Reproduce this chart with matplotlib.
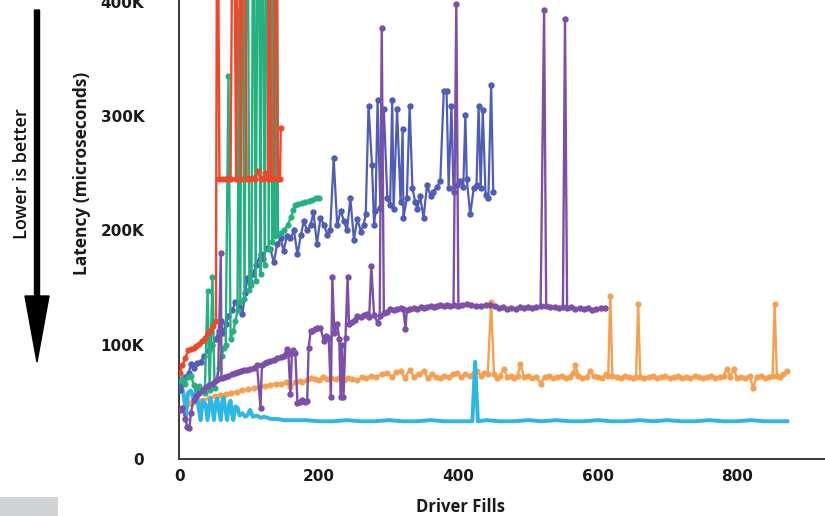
import matplotlib
matplotlib.use("Agg")
import matplotlib.pyplot as plt
from matplotlib.patches import FancyArrow, Rectangle
from matplotlib.ticker import FuncFormatter, FixedLocator

# ---------------- data (latency in thousands of microseconds) ----------------
red_x = [0,4,8,12,16,20,24,28,32,36,40,44,48,52,54,57,61,65,69,73,77,81,85,88,92,96,100,104,108,112,116,120,123,127,128,131,135,138,141,144,145]
red_y = [75,82,88,95,96,97,99,101,103,106,110,112,116,121,600,245,245,245,246,245,600,245,600,245,600,245,245,246,245,252,245,246,250,245,600,245,246,600,245,245,290]

green_x = [0,4,8,12,16,20,24,28,32,36,40,43,47,50,53,56,60,63,66,70,73,77,80,83,85,87,90,93,97,100,103,106,109,113,116,119,122,126,128,130,133,135,137,139,141,145,150,155,160,163,166,170,175,180,185,190,195,200]
green_y = [68,70,66,72,73,65,62,64,60,58,147,60,159,62,70,80,90,97,100,335,105,112,121,130,393,137,600,140,600,148,152,600,156,600,162,600,170,600,184,600,190,600,195,600,197,198,200,205,212,218,222,223,224,225,226,227,228,228]

blue_x = [0,4,8,13,16,20,25,30,35,42,47,52,56,59,62,66,70,75,80,85,90,94,97,101,105,110,116,120,125,130,135,140,145,149,154,159,164,169,174,178,183,188,192,197,202,207,212,216,221,226,231,236,240,245,250,255,260,264,267,271,276,279,281,284,288,293,298,302,305,307,312,317,320,321,326,330,334,338,341,345,350,355,360,364,369,374,379,383,386,390,393,398,403,407,410,412,417,422,426,429,432,435,439,443,447,450]
blue_y = [60,66,72,75,83,80,84,85,90,95,100,105,112,121,110,118,125,130,137,133,127,145,158,155,162,170,179,175,185,184,172,188,193,182,195,193,200,179,196,208,200,205,216,188,211,205,196,200,263,205,217,208,200,228,192,210,199,205,214,309,257,205,217,314,220,306,228,222,314,219,306,225,289,211,228,309,237,225,219,230,211,240,230,234,238,243,322,322,237,309,234,240,243,238,301,245,214,237,240,309,237,305,231,228,327,234]

purple_x = [0,4,8,11,14,16,20,24,28,34,38,42,46,50,55,59,60,65,70,75,80,83,88,92,97,101,106,111,116,118,122,126,130,135,140,145,149,154,156,159,161,163,166,169,172,176,180,183,185,188,190,194,197,202,207,210,214,217,219,222,226,229,231,233,235,238,241,243,247,251,255,260,265,269,272,275,279,284,287,290,293,297,302,307,312,317,321,324,326,331,336,341,346,350,355,360,365,370,374,379,384,388,393,397,400,405,412,418,425,432,439,446,452,458,464,470,476,482,488,494,500,506,512,518,523,526,532,538,544,550,553,556,562,568,574,580,586,592,598,604,611]
purple_y = [43,45,35,28,27,40,52,55,58,60,63,65,66,68,70,180,71,72,73,74,75,76,77,78,78,79,80,82,45,82,84,85,86,87,88,89,90,96,92,57,93,95,93,49,50,52,50,51,97,112,112,114,115,115,103,108,106,54,159,110,118,105,54,100,54,106,159,118,120,122,125,124,126,127,124,169,126,119,125,377,128,129,131,130,131,132,131,114,130,131,132,131,133,132,133,134,133,134,135,134,135,134,135,398,134,135,136,135,134,134,135,135,134,132,133,131,132,131,133,132,133,132,133,134,393,134,133,133,132,133,385,132,133,131,132,131,132,130,131,132,132]

orange_x = [0,5,10,15,20,27,34,42,50,58,66,74,82,90,98,106,114,122,130,138,146,152,159,166,172,176,182,188,194,200,206,212,217,224,230,236,242,248,255,262,268,275,282,290,298,305,311,317,323,330,336,343,350,356,362,368,374,380,386,392,398,404,410,416,422,427,432,437,442,447,451,455,460,465,470,475,480,485,489,494,500,506,512,518,524,530,536,542,548,554,560,565,568,572,578,584,589,594,600,606,612,615,618,621,627,633,639,645,651,655,658,661,667,673,679,685,691,697,703,709,715,721,727,733,739,745,751,757,763,769,775,781,785,790,795,800,806,812,818,823,828,834,840,846,851,854,857,862,866,871]
orange_y = [43,45,48,49,50,51,52,53,55,56,57,58,59,60,61,62,63,64,65,66,66,67,63,67,68,67,69,71,70,69,72,70,71,70,72,69,71,70,69,72,71,73,72,74,75,72,76,77,71,78,72,74,77,71,74,72,71,73,72,74,75,72,74,73,75,77,73,75,74,137,74,71,73,79,72,73,71,73,83,72,73,71,72,66,72,73,71,72,73,71,72,75,82,73,71,72,77,73,72,71,74,73,143,73,72,71,73,72,71,72,136,72,71,72,73,71,72,73,71,72,73,71,72,71,73,72,71,72,73,71,72,73,79,72,79,71,72,71,73,62,72,73,71,72,73,136,73,72,74,77]

cyan_x = [0,3,6,9,12,16,20,24,27,30,33,37,40,44,47,49,52,54,57,59,61,63,66,68,71,73,75,77,80,83,86,90,94,97,101,105,111,116,121,126,131,140,150,160,170,180,200,220,240,260,280,300,320,340,360,380,400,420,424,428,440,460,480,500,520,540,560,580,600,620,640,660,680,700,720,740,760,780,800,820,840,860,872]
cyan_y = [60,64,55,37,58,60,52,62,45,34,51,48,34,53,45,34,50,53,40,34,50,54,42,34,48,51,40,34,46,45,38,40,37,38,43,37,38,36,37,36,35,35,34,34,34,34,33,33,34,33,33,34,33,33,34,33,33,33,85,33,34,33,33,34,33,34,33,33,34,33,33,34,33,34,33,33,34,33,33,34,33,33,33]

y_ticks = [0, 100, 200, 300, 400]
x_ticks = [0, 200, 400, 600, 800]

# ---------------- figure ----------------
W, H = 825, 516
fig = plt.figure(figsize=(W / 100, H / 100), dpi=100)
ax = fig.add_axes([179 / W, 57 / H, (W - 179) / W, 459 / H])

TICKFONT = ["Lato", "DejaVu Sans"]
LABFONT = ["Open Sans", "DejaVu Sans"]
plt.rcParams["font.family"] = TICKFONT

series = [
    (orange_x, orange_y, "#f6a04f", 1.7, 3.4, 2),
    (cyan_x, cyan_y, "#2db7e4", 2.8, 0.0, 3),
    (blue_x, blue_y, "#4f5db8", 1.6, 3.6, 4),
    (green_x, green_y, "#25b07f", 1.7, 3.4, 5),
    (purple_x, purple_y, "#7c4fa8", 1.7, 3.6, 6),
    (red_x, red_y, "#f0472a", 1.7, 3.4, 7),
]
for xs, ys, col, lw, ms, z in series:
    ax.plot(xs, [v * 1000 for v in ys], color=col, lw=lw, marker="o" if ms else None,
            ms=ms, mec=col, mfc=col, zorder=z, solid_joinstyle="round")

ax.set_xlim(-1, (W - 179) / 0.6975)
ax.set_ylim(0, 401600)
ax.yaxis.set_major_locator(FixedLocator([v * 1000 for v in y_ticks]))
ax.xaxis.set_major_locator(FixedLocator(x_ticks))
ax.yaxis.set_major_formatter(FuncFormatter(lambda v, p: "0" if v == 0 else f"{v/1000:.0f}K"))
ax.tick_params(axis="y", length=0, pad=25, labelsize=11)
ax.tick_params(axis="x", length=0, pad=7, labelsize=11)
for lab in ax.get_xticklabels() + ax.get_yticklabels():
    lab.set_fontweight("bold")
    lab.set_color("#1a1a1a")
for s in ["top", "right"]:
    ax.spines[s].set_visible(False)
for s in ["left", "bottom"]:
    ax.spines[s].set_color("#3a3a3a")
    ax.spines[s].set_linewidth(1.4)

# labels
fig.text(460 / W, 1 - 507 / H, "Driver Fills", ha="center", va="center",
         fontsize=12, fontweight="bold", color="#1a1a1a", family=LABFONT)
fig.text(82 / W, 1 - 173 / H, "Latency (microseconds)", ha="center", va="center",
         rotation=90, fontsize=12.5, fontweight="bold", color="#1a1a1a", family=LABFONT)
fig.text(22 / W, 1 - 174 / H, "Lower is better", ha="center", va="center",
         rotation=90, fontsize=13, fontweight="semibold", color="#111111", family=LABFONT)

# overlay in pixel coords for decorations
ov = fig.add_axes([0, 0, 1, 1], zorder=-1)
ov.set_xlim(0, W)
ov.set_ylim(H, 0)
ov.axis("off")
ov.add_patch(FancyArrow(37, 10, 0, 352, width=5, head_width=24, head_length=66,
                        length_includes_head=True, color="black"))
ov.add_patch(Rectangle((0, 497), 58, 19, color="#d2d3d5", lw=0))

fig.savefig("out.png", dpi=100)
